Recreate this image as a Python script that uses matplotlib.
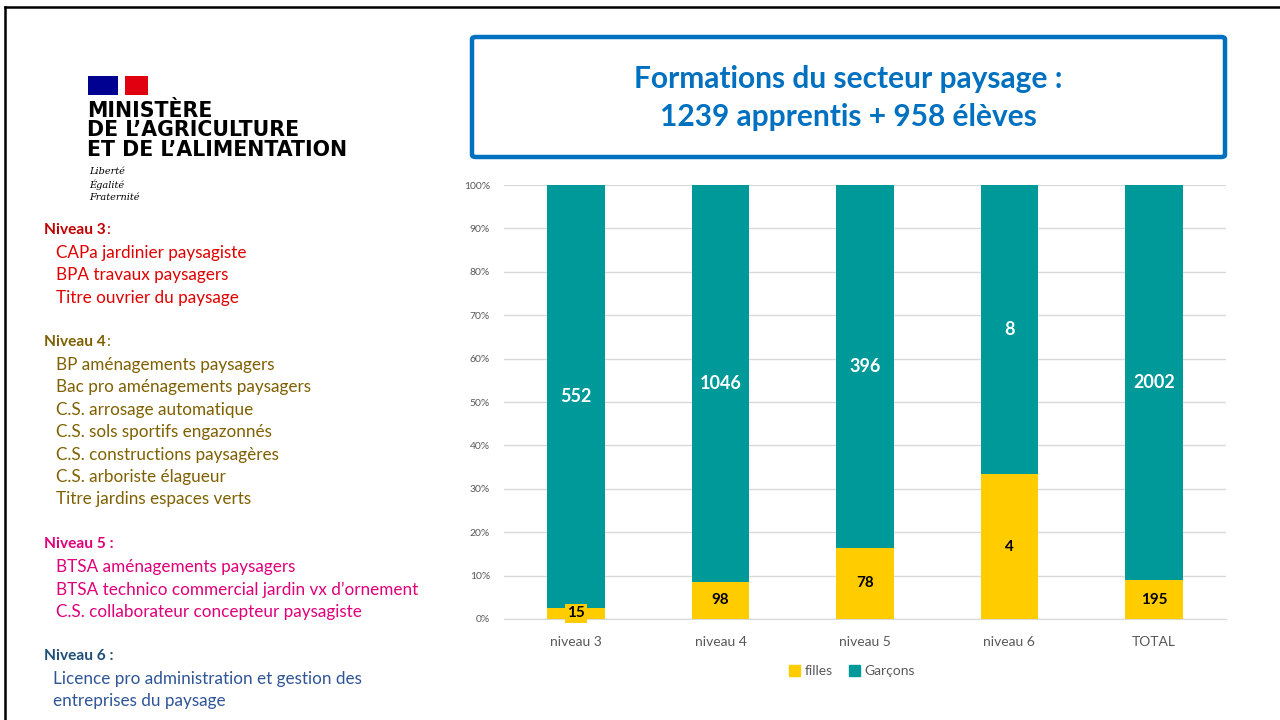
import numpy as np
import matplotlib.pyplot as plt
from matplotlib.patches import Rectangle, FancyBboxPatch, Patch
from matplotlib.lines import Line2D

plt.rcParams['font.family'] = ['Lato', 'DejaVu Sans']

# data
categories = ['niveau 3', 'niveau 4', 'niveau 5', 'niveau 6', 'TOTAL']
filles = [15, 98, 78, 4, 195]
garcons = [552, 1046, 396, 8, 2002]
pct_ticks = [0, 10, 20, 30, 40, 50, 60, 70, 80, 90, 100]

W, H = 1280, 720
fig = plt.figure(figsize=(12.8, 7.2), dpi=100)


def fx(x):
    return x / W


def fy(y):
    return 1 - y / H


# slide frame
fig.add_artist(Line2D([fx(5), fx(1280)], [fy(7), fy(7)], color='black', lw=1.8))
fig.add_artist(Line2D([fx(5), fx(5)], [fy(7), fy(720)], color='black', lw=1.8))

# logo
fig.add_artist(Rectangle((fx(88), fy(95)), fx(30), 19 / H, color='#000091', lw=0))
fig.add_artist(Rectangle((fx(125), fy(95)), fx(23), 19 / H, color='#E1000F', lw=0))
for i, s in enumerate(['MINISTÈRE', 'DE L\u2019AGRICULTURE', 'ET DE L\u2019ALIMENTATION']):
    fig.text(fx(87), fy(111 + i * 19.5), s, fontsize=14.8, fontweight='bold',
             family='DejaVu Sans', color='black', va='center', ha='left')
for i, s in enumerate(['Liberté', 'Égalité', 'Fraternité']):
    fig.text(fx(89), fy(172 + i * 12.5), s, fontsize=7, style='italic',
             family='DejaVu Serif', color='black', va='center', ha='left')

# left side text
blocks = [
    ('Niveau 3', ':', '#C00000', '#E00000', 230,
     ['CAPa jardinier paysagiste', 'BPA travaux paysagers', 'Titre ouvrier du paysage']),
    ('Niveau 4', ':', '#7F6000', '#7F6000', 342,
     ['BP aménagements paysagers', 'Bac pro aménagements paysagers',
      'C.S. arrosage automatique', 'C.S. sols sportifs engazonnés',
      'C.S. constructions paysagères', 'C.S. arboriste élagueur',
      'Titre jardins espaces verts']),
    ('Niveau 5 :', '', '#E0007A', '#E0007A', 544,
     ['BTSA aménagements paysagers', 'BTSA technico commercial jardin vx d\u2019ornement',
      'C.S. collaborateur concepteur paysagiste']),
    ('Niveau 6 :', '', '#1F4E79', '#2F5597', 656,
     ['Licence pro administration et gestion des', 'entreprises du paysage']),
]
for head, tail, hc, ic, y0, items in blocks:
    t = fig.text(fx(44), fy(y0), head, fontsize=11.2, fontweight='bold', color=hc,
                 va='center', ha='left')
    if tail:
        fig.canvas.draw()
        bb = t.get_window_extent()
        fig.text(bb.x1 / W + 0.0005, fy(y0), tail, fontsize=11.2, color=hc,
                 va='center', ha='left')
    xi = 53 if head.startswith('Niveau 6') else 56
    for k, s in enumerate(items):
        fig.text(fx(xi), fy(y0 + 23 + k * 22.4), s, fontsize=12.3, color=ic,
                 va='center', ha='left')

# title box
fig.add_artist(FancyBboxPatch((fx(472), fy(157)), fx(753), 120 / H,
                              boxstyle='round,pad=0,rounding_size=0.003',
                              fc='white', ec='#0070C0', lw=3.2))
fig.text(fx(848), fy(79), 'Formations du secteur paysage :', fontsize=21.5,
         fontweight='bold', color='#0070C0', ha='center', va='center')
fig.text(fx(848), fy(117), '1239 apprentis + 958 élèves', fontsize=21.5,
         fontweight='bold', color='#0070C0', ha='center', va='center')

# chart
ax = fig.add_axes([fx(504), fy(619), fx(722), 434 / H])
f = np.array(filles, dtype=float)
g = np.array(garcons, dtype=float)
tot = f + g
pf = f / tot
pg = g / tot
x = np.arange(len(categories))
yellow = '#FFCC00'
teal = '#009999'
ax.bar(x, pf, width=0.4, color=yellow, label='filles', zorder=3)
ax.bar(x, pg, width=0.4, bottom=pf, color=teal, label='Garçons', zorder=3)

for i in range(len(x)):
    bb = dict(boxstyle='square,pad=0.15', fc=yellow, ec='none') if pf[i] < 0.05 else None
    ax.text(x[i], pf[i] / 2, str(filles[i]), ha='center', va='center', fontsize=11,
            fontweight='bold', color='black', zorder=5, bbox=bb)
    ax.text(x[i], pf[i] + pg[i] / 2, str(garcons[i]), ha='center', va='center',
            fontsize=13, fontweight='bold', color='white', zorder=5)

ax.set_xlim(-0.5, len(x) - 0.5)
ax.set_ylim(0, 1)
ax.set_yticks([p / 100 for p in pct_ticks])
ax.set_yticklabels(['%d%%' % p for p in pct_ticks])
ax.set_xticks(x)
ax.set_xticklabels(categories)
ax.grid(axis='y', color='#D9D9D9', lw=1, zorder=0)
for s in ['top', 'right', 'left']:
    ax.spines[s].set_visible(False)
ax.spines['bottom'].set_color('#D9D9D9')
ax.tick_params(axis='y', length=0, labelsize=7.5, labelcolor='#595959', pad=10)
ax.tick_params(axis='x', length=0, labelsize=10, labelcolor='#595959', pad=12)

handles = [Patch(color=yellow, label='filles'), Patch(color=teal, label='Garçons')]
fig.legend(handles=handles, loc='center', bbox_to_anchor=(fx(852), fy(671)), ncol=2,
           frameon=False, fontsize=10, handlelength=0.8, handleheight=0.8,
           handletextpad=0.3, columnspacing=1.2, labelcolor='#595959')

fig.savefig('out.png', dpi=100)
